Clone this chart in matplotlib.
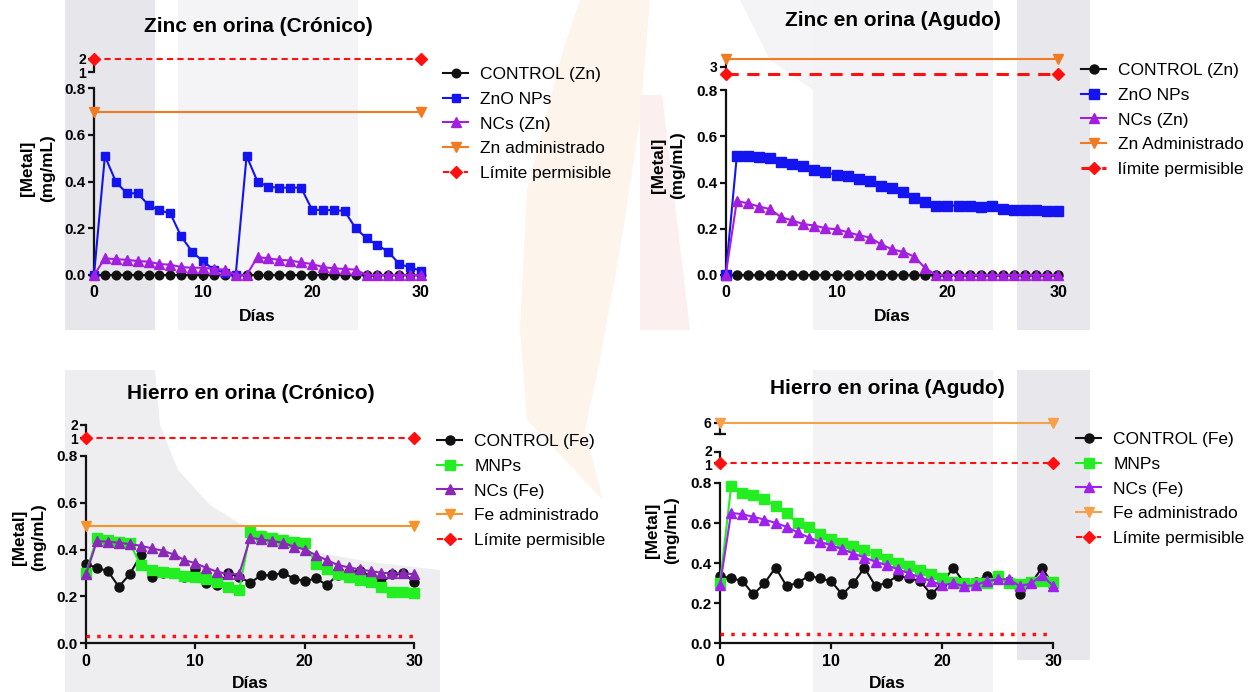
import matplotlib
matplotlib.use("Agg")
import matplotlib.pyplot as plt
from matplotlib.patches import Polygon
from matplotlib.ticker import FixedLocator
from matplotlib.transforms import ScaledTranslation

plt.rcParams['font.family'] = ['Liberation Sans', 'DejaVu Sans']

W, H = 1251, 692

# ---------------- data ----------------
dias = [0, 1, 2, 3, 4, 5, 6, 7, 8, 9, 10, 11, 12, 13, 14, 15,
        16, 17, 18, 19, 20, 21, 22, 23, 24, 25, 26, 27, 28, 29, 30]
dias_ref = [0, 30]

# Zinc en orina (Crónico)
zn_cr_control = [0, 0, 0, 0, 0, 0, 0, 0, 0, 0, 0, 0, 0, 0, 0, 0,
                 0, 0, 0, 0, 0, 0, 0, 0, 0, 0, 0, 0, 0, 0, 0]
zn_cr_zno = [0.0, 0.51, 0.40, 0.35, 0.35, 0.30, 0.277, 0.264, 0.165, 0.10, 0.058,
             0.023, 0.01, 0.0, 0.51, 0.40, 0.378, 0.374, 0.374, 0.374, 0.28,
             0.278, 0.278, 0.274, 0.20, 0.158, 0.128, 0.10, 0.047, 0.033, 0.018]
zn_cr_ncs = [0.0, 0.071, 0.068, 0.065, 0.06, 0.057, 0.047, 0.044, 0.034, 0.031, 0.031,
             0.026, 0.023, 0.0, 0.0, 0.077, 0.071, 0.065, 0.062, 0.054, 0.047,
             0.034, 0.028, 0.026, 0.023, 0.0, 0.0, 0.0, 0.0, 0.0, 0.0]
zn_cr_admin = [0.7, 0.7]
zn_cr_limite = [2.0, 2.0]

# Zinc en orina (Agudo)
zn_ag_control = [0, 0, 0, 0, 0, 0, 0, 0, 0, 0, 0, 0, 0, 0, 0, 0,
                 0, 0, 0, 0, 0, 0, 0, 0, 0, 0, 0, 0, 0, 0, 0]
zn_ag_zno = [0.0, 0.513, 0.513, 0.51, 0.508, 0.488, 0.48, 0.47, 0.452, 0.444, 0.433,
             0.429, 0.416, 0.405, 0.387, 0.376, 0.357, 0.331, 0.316, 0.30, 0.30,
             0.30, 0.30, 0.296, 0.298, 0.286, 0.279, 0.279, 0.279, 0.276, 0.276]
zn_ag_ncs = [0.0, 0.32, 0.31, 0.296, 0.285, 0.25, 0.236, 0.22, 0.214, 0.202, 0.198,
             0.185, 0.172, 0.162, 0.133, 0.111, 0.10, 0.08, 0.029, 0.0, 0.0,
             0.0, 0.0, 0.0, 0.0, 0.0, 0.0, 0.0, 0.0, 0.0, 0.0]
zn_ag_admin = [3.5, 3.5]
zn_ag_limite = [2.5, 2.5]

# Hierro en orina (Crónico)
fe_cr_control = [0.337, 0.322, 0.308, 0.241, 0.295, 0.375, 0.284, 0.30, 0.298, 0.284, 0.315,
                 0.256, 0.249, 0.298, 0.284, 0.258, 0.29, 0.29, 0.30, 0.276, 0.264,
                 0.277, 0.249, 0.29, 0.304, 0.308, 0.288, 0.258, 0.294, 0.298, 0.263]
fe_cr_mnps = [0.30, 0.45, 0.44, 0.433, 0.426, 0.334, 0.313, 0.305, 0.298, 0.287, 0.281,
              0.273, 0.263, 0.241, 0.227, 0.473, 0.459, 0.45, 0.44, 0.433, 0.426,
              0.34, 0.317, 0.295, 0.281, 0.27, 0.26, 0.239, 0.22, 0.217, 0.216]
fe_cr_ncs = [0.295, 0.436, 0.433, 0.429, 0.423, 0.416, 0.405, 0.395, 0.379, 0.355, 0.341,
             0.322, 0.305, 0.295, 0.295, 0.45, 0.443, 0.436, 0.429, 0.412, 0.40,
             0.376, 0.355, 0.334, 0.324, 0.315, 0.308, 0.301, 0.298, 0.298, 0.295]
fe_cr_admin = [0.5, 0.5]
fe_cr_limite = [1.0, 1.0]
fe_cr_limite_bajo = [0.033, 0.033]

# Hierro en orina (Agudo)
fe_ag_control = [0.337, 0.324, 0.312, 0.244, 0.299, 0.378, 0.285, 0.302, 0.337, 0.324, 0.31,
                 0.244, 0.299, 0.377, 0.285, 0.302, 0.337, 0.324, 0.312, 0.244, 0.299,
                 0.378, 0.299, 0.304, 0.337, 0.324, 0.312, 0.244, 0.299, 0.378, 0.285]
fe_ag_mnps = [0.299, 0.783, 0.75, 0.739, 0.722, 0.684, 0.651, 0.598, 0.581, 0.543, 0.523,
              0.501, 0.485, 0.465, 0.445, 0.423, 0.402, 0.385, 0.365, 0.345, 0.324,
              0.307, 0.302, 0.299, 0.302, 0.335, 0.299, 0.295, 0.307, 0.312, 0.304]
fe_ag_ncs = [0.29, 0.651, 0.644, 0.631, 0.617, 0.601, 0.581, 0.553, 0.528, 0.506, 0.49,
             0.47, 0.448, 0.428, 0.407, 0.39, 0.37, 0.349, 0.329, 0.31, 0.29,
             0.299, 0.285, 0.29, 0.31, 0.319, 0.319, 0.285, 0.299, 0.34, 0.285]
fe_ag_admin = [6.0, 6.0]
fe_ag_limite = [1.0, 1.0]
fe_ag_limite_bajo = [0.045, 0.045]

x_ticks = [0, 10, 20, 30]
y_ticks = [0.0, 0.2, 0.4, 0.6, 0.8]
y_ticklabels = ['0.0', '0.2', '0.4', '0.6', '0.8']

# ---------------- styles ----------------
BLACK = '#111111'
BLUE = '#1414f0'
PURPLE_ZN = '#a31fe0'
ORANGE_ZN = '#f27a22'
RED = '#ff1010'
GREEN = '#22ee22'
PURPLE_FE = '#8a28b8'
PURPLE_FE2 = '#a020f0'
ORANGE_FE = '#f7932a'
ORANGE_FE2 = '#f5a04a'

fig = plt.figure(figsize=(W / 100, H / 100), dpi=100)

# faint background emblem
bg = fig.add_axes([0, 0, 1, 1], zorder=-10)
bg.set_xlim(0, W)
bg.set_ylim(H, 0)
bg.axis('off')
shapes = [
    ([(65, 0), (155, 0), (155, 330), (65, 330)], '#e7e7eb'),
    ([(178, 0), (358, 0), (358, 330), (178, 330)], '#f4f4f6'),
    ([(740, 0), (813, 0), (813, 90), (770, 60)], '#f4f4f6'),
    ([(813, 0), (993, 0), (993, 330), (813, 330)], '#f3f3f5'),
    ([(1017, 0), (1090, 0), (1090, 330), (1017, 330)], '#e8e8ec'),
    ([(813, 370), (993, 370), (993, 692), (813, 692)], '#f3f3f5'),
    ([(1017, 370), (1090, 370), (1090, 660), (1017, 660)], '#e8e8ec'),
    ([(65, 370), (155, 370), (160, 425), (178, 470), (210, 505), (250, 530),
      (305, 550), (370, 562), (440, 570), (440, 692), (65, 692)], '#eeeef1'),
    ([(580, 0), (650, 0), (640, 120), (620, 250), (600, 360), (585, 430),
      (603, 500), (527, 420), (520, 330), (527, 190), (563, 50)], '#fdf4ec'),
    ([(640, 95), (662, 95), (690, 330), (640, 330)], '#fbefef'),
]
for pts, col in shapes:
    bg.add_patch(Polygon(pts, closed=True, facecolor=col, edgecolor='none'))


def px_rect(x0, x1, ytop, ybot):
    return [x0 / W, 1 - ybot / H, (x1 - x0) / W, (ybot - ytop) / H]


def style_axis(ax, ylim, ticks, labels, caps, bottom, nudge):
    ax.set_facecolor('none')
    ax.set_xlim(0, 30)
    ax.set_ylim(*ylim)
    for s in ('top', 'right'):
        ax.spines[s].set_visible(False)
    ax.spines['left'].set_linewidth(1.6)
    ax.spines['left'].set_color(BLACK)
    ax.yaxis.set_major_locator(FixedLocator(ticks))
    ax.set_yticklabels(labels)
    ax.yaxis.set_minor_locator(FixedLocator(caps))
    ax.tick_params(axis='y', which='major', direction='out', length=4.5, width=1.6,
                   labelsize=11 if bottom else 10, pad=1.5, color=BLACK)
    ax.tick_params(axis='y', which='minor', direction='inout', length=8, width=1.6,
                   color=BLACK)
    for t, dy in zip(ax.get_yticklabels(), nudge or [0] * len(ticks)):
        t.set_fontweight('bold')
        if dy:
            t.set_transform(t.get_transform() +
                            ScaledTranslation(0, dy / 72, fig.dpi_scale_trans))
    if bottom:
        ax.spines['bottom'].set_linewidth(1.6)
        ax.spines['bottom'].set_color(BLACK)
        ax.set_xticks(x_ticks)
        ax.tick_params(axis='x', direction='out', length=4.5, width=1.6,
                       labelsize=11.5, pad=3, color=BLACK)
        for t in ax.get_xticklabels():
            t.set_fontweight('bold')
    else:
        ax.spines['bottom'].set_visible(False)
        ax.set_xticks([])


def panel(x0, x1, segments, title, title_xy, dias_xy, ylab_xy, series, refs,
          legend_xy):
    axes = []
    for i, seg in enumerate(segments):
        ax = fig.add_axes(px_rect(x0, x1, seg['top'], seg['bot']))
        style_axis(ax, seg['ylim'], seg['ticks'], seg['labels'], seg['caps'], i == 0,
                   seg.get('nudge'))
        axes.append(ax)
    handles = []
    labels = []
    for vals, col, mk, ms, lab in series:
        ln, = axes[0].plot(dias, vals, color=col, marker=mk, markersize=ms, lw=1.5,
                           markeredgecolor=col, clip_on=False, zorder=5)
        handles.append(ln)
        labels.append(lab)
    for vals, seg_i, col, mk, ms, ls, lw, lab in refs:
        ln, = axes[seg_i].plot(dias_ref, vals, color=col, marker=mk, markersize=ms,
                               linestyle=ls, lw=lw, markeredgecolor=col,
                               clip_on=False, zorder=4)
        if lab:
            handles.append(ln)
            labels.append(lab)
    fig.text(title_xy[0] / W, 1 - title_xy[1] / H, title, ha='center', va='center',
             fontsize=15, fontweight='bold')
    fig.text(dias_xy[0] / W, 1 - dias_xy[1] / H, 'Días', ha='center', va='center',
             fontsize=12.5, fontweight='bold')
    fig.text(ylab_xy[0] / W, 1 - ylab_xy[1] / H, '[Metal]\n(mg/mL)', ha='center',
             va='center', rotation=90, fontsize=12.3, fontweight='bold',
             multialignment='center', linespacing=1.4)
    fig.legend(handles, labels, loc='upper left',
               bbox_to_anchor=(legend_xy[0] / W, 1 - legend_xy[1] / H),
               frameon=False, borderpad=0, borderaxespad=0, handlelength=1.45,
               handletextpad=0.7, labelspacing=0.55, fontsize=12.5)
    return axes


# Zinc en orina (Crónico)
panel(94, 421,
      [dict(ylim=(0, 0.8), top=88.3, bot=275, ticks=y_ticks, labels=y_ticklabels, caps=[0.8]),
       dict(ylim=(1, 2), top=59.3, bot=71.7, ticks=[1, 2], labels=['1', '2'], caps=[1],
            nudge=[-0.5, 0.5])],
      'Zinc en orina (Crónico)', (258, 26), (257.7, 316.7), (37.5, 168),
      [(zn_cr_control, BLACK, 'o', 6.2, 'CONTROL (Zn)'),
       (zn_cr_zno, BLUE, 's', 6.3, 'ZnO NPs'),
       (zn_cr_ncs, PURPLE_ZN, '^', 7, 'NCs (Zn)')],
      [(zn_cr_admin, 0, ORANGE_ZN, 'v', 7, '-', 1.5, 'Zn administrado'),
       (zn_cr_limite, 1, RED, 'D', 6, (0, (3, 2)), 1.5, 'Límite permisible')],
      (443, 67))

# Zinc en orina (Agudo)
panel(725.7, 1058.3,
      [dict(ylim=(0, 0.8), top=90, bot=275, ticks=y_ticks, labels=y_ticklabels, caps=[0.8]),
       dict(ylim=(2.5, 3.5), top=59.3, bot=74, ticks=[3], labels=['3'], caps=[])],
      'Zinc en orina (Agudo)', (892.7, 20.7), (892, 316.7), (668, 165),
      [(zn_ag_control, BLACK, 'o', 6.5, 'CONTROL (Zn)'),
       (zn_ag_zno, BLUE, 's', 7, 'ZnO NPs'),
       (zn_ag_ncs, PURPLE_ZN, '^', 7.5, 'NCs (Zn)')],
      [(zn_ag_admin, 1, ORANGE_ZN, 'v', 7, '-', 1.5, 'Zn Administrado'),
       (zn_ag_limite, 1, RED, 'D', 6, (0, (4, 2.8)), 2.2, 'límite permisible')],
      (1081, 63))

# Hierro en orina (Crónico)
panel(86, 414.3,
      [dict(ylim=(0, 0.8), top=455.7, bot=643.3, ticks=y_ticks, labels=y_ticklabels, caps=[0.8]),
       dict(ylim=(1, 2), top=425, bot=437.7, ticks=[1, 2], labels=['1', '2'], caps=[],
            nudge=[-0.5, 0.5])],
      'Hierro en orina (Crónico)', (251, 393.3), (250, 683), (29, 537),
      [(fe_cr_control, BLACK, 'o', 6.5, 'CONTROL (Fe)'),
       (fe_cr_mnps, GREEN, 's', 6.5, 'MNPs'),
       (fe_cr_ncs, PURPLE_FE, '^', 7, 'NCs (Fe)')],
      [(fe_cr_admin, 0, ORANGE_FE, 'v', 7, '-', 1.5, 'Fe administrado'),
       (fe_cr_limite, 1, RED, 'D', 6, (0, (3, 2)), 1.5, 'Límite permisible'),
       (fe_cr_limite_bajo, 0, RED, None, 0, (0, (1, 2.1)), 2.5, None)],
      (437, 434))

# Hierro en orina (Agudo)
panel(720, 1053.3,
      [dict(ylim=(0, 0.8), top=483, bot=643.3, ticks=y_ticks, labels=y_ticklabels, caps=[0.8]),
       dict(ylim=(1, 2), top=452.3, bot=463.3, ticks=[1, 2], labels=['1', '2'], caps=[2],
            nudge=[-1, 1]),
       dict(ylim=(5, 6), top=422.7, bot=434.3, ticks=[6], labels=['6'], caps=[5])],
      'Hierro en orina (Agudo)', (887, 389), (887, 683), (662, 530),
      [(fe_ag_control, BLACK, 'o', 6.5, 'CONTROL (Fe)'),
       (fe_ag_mnps, GREEN, 's', 6.5, 'MNPs'),
       (fe_ag_ncs, PURPLE_FE2, '^', 7, 'NCs (Fe)')],
      [(fe_ag_admin, 2, ORANGE_FE2, 'v', 7, '-', 1.5, 'Fe administrado'),
       (fe_ag_limite, 1, RED, 'D', 6, (0, (3, 2)), 1.5, 'Límite permisible'),
       (fe_ag_limite_bajo, 0, RED, None, 0, (0, (1, 2.1)), 2.5, None)],
      (1076, 432))

fig.savefig('out.png', dpi=100)
